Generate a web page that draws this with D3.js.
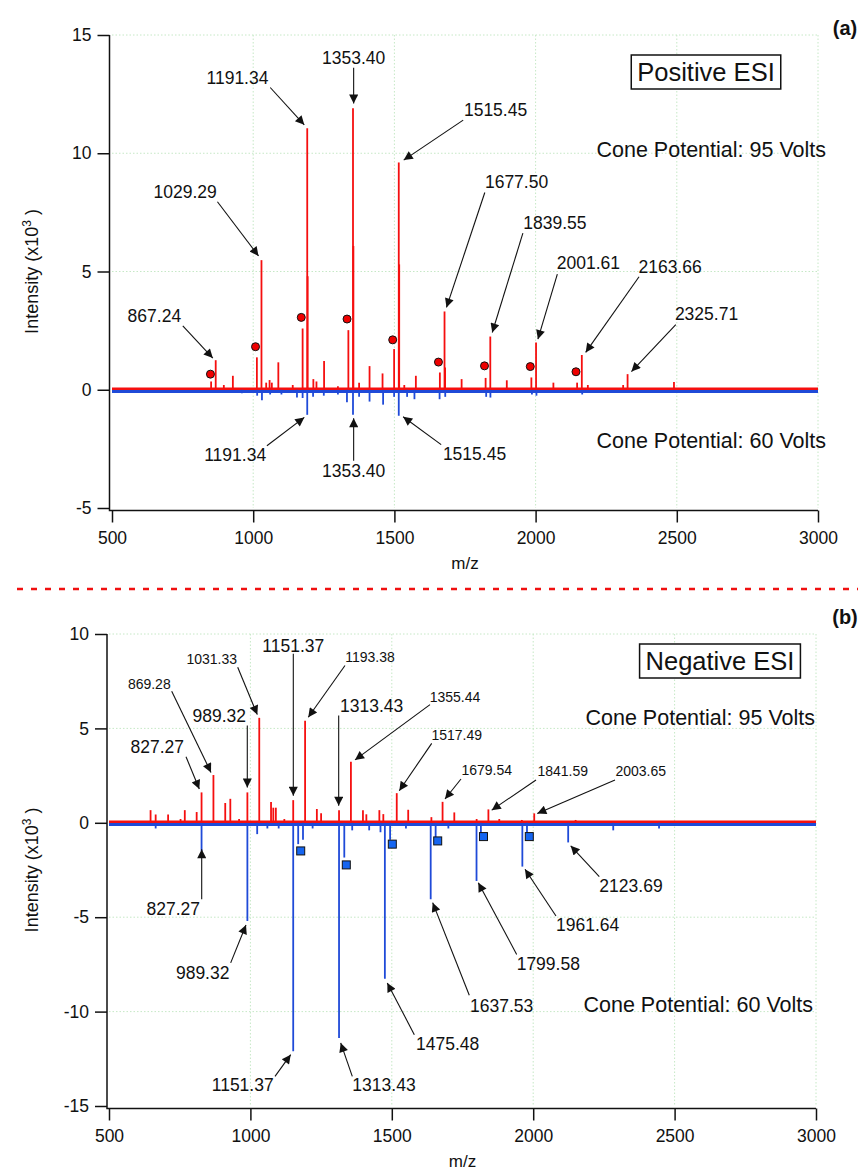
<!DOCTYPE html>
<html lang="en">
<head>
<meta charset="UTF-8">
<title>ESI spectra</title>
<script src="https://cdn.jsdelivr.net/npm/d3@7"></script>
<style>
  body { margin: 0; background: #fff; }
  text { font-family: "Liberation Sans", Arial, sans-serif; fill: #111; }
</style>
</head>
<body>
<div id="chart"></div>
<script>
// ---- data (m/z, intensity x10^3) ----
const xTicks = [500, 1000, 1500, 2000, 2500, 3000];
const posYTicks = [-5, 0, 5, 10, 15];
const negYTicks = [-15, -10, -5, 0, 5, 10];

// (a) positive ESI, cone 95 V (up) and 60 V (down)
const posHigh = [
  [851, 0.35], [867.24, 1.25], [896, 0.2], [928, 0.59], [1013, 1.37], [1029.29, 5.48],
  [1046, 0.3], [1058, 0.41], [1066, 0.3], [1089, 1.16], [1140, 0.2], [1175, 2.59],
  [1191.34, 11.06], [1192.8, 4.8], [1213, 0.45], [1224, 0.35], [1251, 1.22], [1300, 0.15],
  [1337, 2.52], [1353.40, 11.9], [1354.8, 6.08], [1375, 0.3], [1412, 1.0], [1458, 0.69],
  [1499, 1.72], [1515.45, 9.61], [1517, 5.3], [1535, 0.2], [1576, 0.59], [1661, 0.73],
  [1677.50, 3.31], [1679.5, 0.94], [1738, 0.45], [1823, 0.5], [1839.55, 2.25], [1898, 0.4],
  [1985, 0.52], [2001.61, 2.0], [2063, 0.3], [2147, 0.3], [2163.66, 1.47], [2185, 0.2],
  [2310, 0.2], [2325.71, 0.66], [2490, 0.33]
];
const posLow = [
  [960, -0.15], [1014, -0.25], [1031, -0.44], [1060, -0.2], [1100, -0.2], [1155, -0.33],
  [1175, -0.35], [1191.34, -1.06], [1212, -0.3], [1250, -0.25], [1300, -0.2], [1332, -0.53],
  [1353.40, -1.06], [1375, -0.3], [1412, -0.5], [1460, -0.63], [1499, -0.3], [1515.45, -1.1],
  [1545, -0.3], [1571, -0.4], [1660, -0.4], [1680, -0.3], [1825, -0.3], [1840, -0.33],
  [1987, -0.2], [2003, -0.25], [2165, -0.2]
];
const posDots = [
  [848.6, 0.66], [1008.2, 1.82], [1170.2, 3.06], [1332.3, 2.99], [1494, 2.11],
  [1656, 1.17], [1819.1, 1.01], [1981.2, 0.98], [2143, 0.76]
];

// (b) negative ESI, cone 95 V (up) and 60 V (down)
const negHigh = [
  [647, 0.67], [665, 0.44], [709, 0.44], [753, 0.2], [768, 0.67], [810, 0.57],
  [827.27, 1.61], [869.28, 2.53], [911, 1.05], [929, 1.27], [960, 0.2], [989.32, 1.61],
  [1031.33, 5.56], [1073, 1.1], [1081, 0.8], [1090, 0.8], [1120, 0.2], [1151.37, 1.2],
  [1193.38, 5.41], [1235, 0.73], [1250, 0.5], [1313.43, 0.67], [1355.44, 3.24], [1398, 0.67],
  [1410, 0.45], [1456, 0.67], [1470, 0.46], [1517.49, 1.57], [1558, 0.69], [1640, 0.3],
  [1679.54, 1.11], [1721, 0.55], [1800, 0.2], [1841.59, 0.71], [1880, 0.2], [1960, 0.15],
  [2003.65, 0.5], [2150, 0.15]
];
const negLow = [
  [665, -0.3], [827.27, -1.49], [989.32, -5.2], [1024, -0.6], [1060, -0.3], [1100, -0.3],
  [1151.37, -12.1], [1169, -1.13], [1186, -0.9], [1220, -0.3], [1313.43, -11.4], [1332, -1.84],
  [1360, -0.4], [1420, -0.4], [1460, -0.5], [1475.48, -8.26], [1494, -0.9], [1550, -0.3],
  [1637.53, -4.05], [1655, -0.8], [1700, -0.3], [1799.58, -3.08], [1815, -0.7],
  [1961.64, -2.32], [1978, -0.5], [2123.69, -1.04], [2283, -0.4], [2445, -0.3]
];
const negSquares = [
  [1177.9, -1.49], [1339.1, -2.23], [1501.8, -1.13], [1662.3, -0.96], [1824.2, -0.73], [1986.2, -0.73]
];

// annotations: label at l, arrow from a to h, all in data units
const posNotes = [
  { t: "867.24",  l: [650, 3.13],    a: [750.7, 2.70],  h: [857, 1.34] },
  { t: "1029.29", l: [758.9, 8.38],  a: [873.4, 7.95],  h: [1018.8, 5.66] },
  { t: "1191.34", l: [944.3, 13.2],  a: [1060.3, 12.78], h: [1180.9, 11.2] },
  { t: "1353.40", l: [1355.7, 14.04], a: [1355.7, 13.62], h: [1355.7, 12.1] },
  { t: "1515.45", l: [1858.2, 11.82], a: [1743.6, 11.4], h: [1533, 9.71] },
  { t: "1677.50", l: [1932.6, 8.8],  a: [1820.2, 8.34], h: [1684.4, 3.48] },
  { t: "1839.55", l: [2068.4, 7.07], a: [1955, 6.62],   h: [1846.5, 2.42] },
  { t: "2001.61", l: [2186.9, 5.36], a: [2077, 4.89],   h: [2008.2, 2.14] },
  { t: "2163.66", l: [2476.2, 5.21], a: [2366.3, 4.78], h: [2177.3, 1.58] },
  { t: "2325.71", l: [2605.3, 3.2],  a: [2496.5, 2.75], h: [2339.4, 0.77] },
  { t: "1191.34", l: [936.2, -2.75], a: [1048.6, -2.37], h: [1180.9, -1.17] },
  { t: "1353.40", l: [1355.7, -3.45], a: [1355.7, -3.0], h: [1355.7, -1.2] },
  { t: "1515.45", l: [1783.7, -2.72], a: [1665.6, -2.32], h: [1530.9, -1.14] }
];
const negNotes = [
  { t: "827.27",  l: [670.8, 4.03],  a: [772.3, 3.5],   h: [819.3, 1.79] },
  { t: "869.28",  l: [642.5, 7.36],  a: [721.7, 6.97],  h: [860.7, 2.67], small: true },
  { t: "989.32",  l: [890, 5.64],    a: [989, 5.15],    h: [989, 1.87] },
  { t: "1031.33", l: [863.2, 8.69],  a: [955.1, 8.24],  h: [1024.4, 5.73], small: true },
  { t: "1151.37", l: [1151.7, 9.39], a: [1151.7, 8.95], h: [1151.7, 1.43] },
  { t: "1193.38", l: [1422.9, 8.77], a: [1334.5, 8.33], h: [1204.7, 5.59], small: true },
  { t: "1313.43", l: [1428.9, 6.21], a: [1312.2, 5.68], h: [1312.2, 0.9] },
  { t: "1355.44", l: [1723.5, 6.65], a: [1635.1, 6.26], h: [1369.9, 3.33], small: true },
  { t: "1517.49", l: [1729.5, 4.65], a: [1641.1, 4.21], h: [1526.5, 1.7], small: true },
  { t: "1679.54", l: [1835.6, 2.81], a: [1744.7, 2.32], h: [1688.1, 1.26], small: true },
  { t: "1841.59", l: [2104.3, 2.76], a: [2009.9, 2.27], h: [1853.3, 0.67], small: true },
  { t: "2003.65", l: [2380.1, 2.72], a: [2289.2, 2.27], h: [2014.5, 0.49], small: true },
  { t: "827.27",  l: [727.4, -4.58], a: [827.8, -4.05], h: [827.8, -1.4] },
  { t: "989.32",  l: [831.3, -7.94], a: [930.3, -7.42], h: [984.4, -5.41] },
  { t: "1151.37", l: [972.8, -13.87], a: [1087, -13.43], h: [1142.5, -12.28] },
  { t: "1313.43", l: [1472.4, -13.87], a: [1360.3, -13.43], h: [1319.3, -11.66] },
  { t: "1475.48", l: [1697.7, -11.74], a: [1579.6, -11.22], h: [1484.1, -8.48] },
  { t: "1637.53", l: [1888.6, -9.68], a: [1774, -9.13],  h: [1644.6, -4.23] },
  { t: "1799.58", l: [2053.4, -7.47], a: [1941.6, -6.97], h: [1805.9, -3.17] },
  { t: "1961.64", l: [2192.7, -5.43], a: [2080.6, -4.94], h: [1971, -2.46] },
  { t: "2123.69", l: [2345.8, -3.34], a: [2233.7, -2.85], h: [2132.6, -1.22] }
];

// ---- drawing ----
const width = 858, height = 1175;
const red = "#f50f0f", blue = "#1f4ad8";

const svg = d3.select("#chart").append("svg")
  .attr("width", width)
  .attr("height", height);

svg.append("defs").append("marker")
  .attr("id", "arrow")
  .attr("viewBox", "0 0 10 10")
  .attr("refX", 10).attr("refY", 5)
  .attr("markerUnits", "userSpaceOnUse")
  .attr("markerWidth", 13).attr("markerHeight", 9)
  .attr("orient", "auto")
  .append("path")
  .attr("d", "M0,0L10,5L0,10z")
  .attr("fill", "#111");

function drawPanel(p) {
  const x = d3.scaleLinear().domain([500, 3000]).range([p.left, p.right]);
  const y = d3.scaleLinear().domain(p.yDomain).range([p.bottom, p.top]);
  const g = svg.append("g");

  // dotted grid
  g.append("g").selectAll("line")
    .data(xTicks.slice(1))
    .join("line")
    .attr("x1", d => x(d)).attr("x2", d => x(d))
    .attr("y1", p.top).attr("y2", p.bottom)
    .attr("stroke", "#c6e8c6").attr("stroke-dasharray", "1.5,2");
  g.append("g").selectAll("line")
    .data(p.yTicks.slice(1))
    .join("line")
    .attr("x1", p.left).attr("x2", p.right)
    .attr("y1", d => y(d)).attr("y2", d => y(d))
    .attr("stroke", "#c6e8c6").attr("stroke-dasharray", "1.5,2");

  // axes
  const yAxis = g.append("g")
    .attr("transform", `translate(${p.axisX},0)`)
    .call(d3.axisLeft(y).tickValues(p.yTicks).tickSize(12).tickPadding(6).tickSizeOuter(0).tickFormat(d => String(d)))
    .call(a => a.select(".domain").remove());
  const xAxis = g.append("g")
    .attr("transform", `translate(0,${p.axisY})`)
    .call(d3.axisBottom(x).tickValues(xTicks).tickSize(12).tickPadding(9).tickSizeOuter(0).tickFormat(d => String(d)))
    .call(a => a.select(".domain").remove());
  [yAxis, xAxis].forEach(a => {
    a.selectAll("line").attr("stroke", "#111").attr("stroke-width", 1.5);
    a.selectAll("text").attr("font-size", 17.5).attr("font-family", "Liberation Sans, Arial, sans-serif").attr("fill", "#111");
  });
  g.append("path")
    .attr("d", `M${p.axisX},${p.top}V${p.axisY}H${p.right}`)
    .attr("fill", "none").attr("stroke", "#111").attr("stroke-width", 1.5);

  g.append("text")
    .attr("x", (p.left + p.right) / 2).attr("y", p.axisY + 58)
    .attr("text-anchor", "middle").attr("font-size", 17)
    .text("m/z");

  const yl = g.append("text")
    .attr("transform", `translate(38,${(p.top + p.bottom) / 2}) rotate(-90)`)
    .attr("text-anchor", "middle").attr("font-size", 18);
  yl.append("tspan").text("Intensity (x10");
  yl.append("tspan").attr("baseline-shift", "super").attr("font-size", 12).text("3");
  yl.append("tspan").text(" )");

  // baselines (noise band at zero)
  g.append("line")
    .attr("x1", x(500)).attr("x2", x(3000))
    .attr("y1", y(0) + 1.8).attr("y2", y(0) + 1.8)
    .attr("stroke", blue).attr("stroke-width", 3);
  g.append("line")
    .attr("x1", x(500)).attr("x2", x(3000))
    .attr("y1", y(0) - 1).attr("y2", y(0) - 1)
    .attr("stroke", red).attr("stroke-width", 2.5);

  // stick spectra
  g.append("g").selectAll("line")
    .data(p.low)
    .join("line")
    .attr("x1", d => x(d[0])).attr("x2", d => x(d[0]))
    .attr("y1", y(0)).attr("y2", d => y(d[1]))
    .attr("stroke", blue).attr("stroke-width", 1.8);
  g.append("g").selectAll("line")
    .data(p.high)
    .join("line")
    .attr("x1", d => x(d[0])).attr("x2", d => x(d[0]))
    .attr("y1", y(0)).attr("y2", d => y(d[1]))
    .attr("stroke", red).attr("stroke-width", 1.8);

  // markers
  if (p.dots) {
    g.append("g").selectAll("circle")
      .data(p.dots)
      .join("circle")
      .attr("cx", d => x(d[0])).attr("cy", d => y(d[1]))
      .attr("r", 4)
      .attr("fill", "#ee0000").attr("stroke", "#111").attr("stroke-width", 1);
  }
  if (p.squares) {
    g.append("g").selectAll("rect")
      .data(p.squares)
      .join("rect")
      .attr("x", d => x(d[0]) - 4).attr("y", d => y(d[1]) - 4)
      .attr("width", 8).attr("height", 8)
      .attr("fill", "#1565f0").attr("stroke", "#111").attr("stroke-width", 1);
  }

  // annotations
  const notes = g.append("g");
  notes.selectAll("line")
    .data(p.notes)
    .join("line")
    .attr("x1", d => x(d.a[0])).attr("y1", d => y(d.a[1]))
    .attr("x2", d => x(d.h[0])).attr("y2", d => y(d.h[1]))
    .attr("stroke", "#111").attr("stroke-width", 1.1)
    .attr("marker-end", "url(#arrow)");
  notes.selectAll("text")
    .data(p.notes)
    .join("text")
    .attr("x", d => x(d.l[0])).attr("y", d => y(d.l[1]))
    .attr("text-anchor", "middle").attr("dominant-baseline", "central")
    .attr("font-size", d => d.small ? 14 : 17.5)
    .text(d => d.t);

  // mode box and cone texts
  const boxText = g.append("text")
    .attr("x", p.boxX).attr("y", p.boxY)
    .attr("text-anchor", "middle").attr("dominant-baseline", "central")
    .attr("font-size", 25.5)
    .text(p.mode);
  const bb = boxText.node().getBBox();
  g.append("rect")
    .attr("x", bb.x - 6).attr("y", bb.y - 3)
    .attr("width", bb.width + 12).attr("height", bb.height + 6)
    .attr("fill", "#fff").attr("stroke", "#111").attr("stroke-width", 1.5);
  boxText.raise();

  p.cones.forEach(c => {
    g.append("text")
      .attr("x", c.x).attr("y", c.y)
      .attr("text-anchor", "end").attr("dominant-baseline", "central")
      .attr("font-size", 21.5)
      .text(c.t);
  });

  g.append("text")
    .attr("x", 845).attr("y", p.tagY)
    .attr("text-anchor", "middle").attr("dominant-baseline", "central")
    .attr("font-size", 20).attr("font-weight", "bold")
    .text(p.tag);
}

drawPanel({
  left: 112, right: 818, top: 35, bottom: 508, axisX: 109.5, axisY: 510.5,
  yDomain: [-5, 15], yTicks: posYTicks,
  high: posHigh, low: posLow, dots: posDots, notes: posNotes,
  mode: "Positive ESI", boxX: 706, boxY: 72,
  cones: [{ t: "Cone Potential: 95 Volts", x: 826, y: 150 },
          { t: "Cone Potential: 60 Volts", x: 826, y: 441 }],
  tag: "(a)", tagY: 28
});

drawPanel({
  left: 109, right: 816, top: 634, bottom: 1106, axisX: 107, axisY: 1108.5,
  yDomain: [-15, 10], yTicks: negYTicks,
  high: negHigh, low: negLow, squares: negSquares, notes: negNotes,
  mode: "Negative ESI", boxX: 720, boxY: 661,
  cones: [{ t: "Cone Potential: 95 Volts", x: 815, y: 718 },
          { t: "Cone Potential: 60 Volts", x: 813, y: 1005 }],
  tag: "(b)", tagY: 617
});

// red dashed separator
svg.append("line")
  .attr("x1", 17).attr("x2", width)
  .attr("y1", 589).attr("y2", 589)
  .attr("stroke", "#f01010").attr("stroke-width", 2.5)
  .attr("stroke-dasharray", "6,8");
</script>
</body>
</html>
